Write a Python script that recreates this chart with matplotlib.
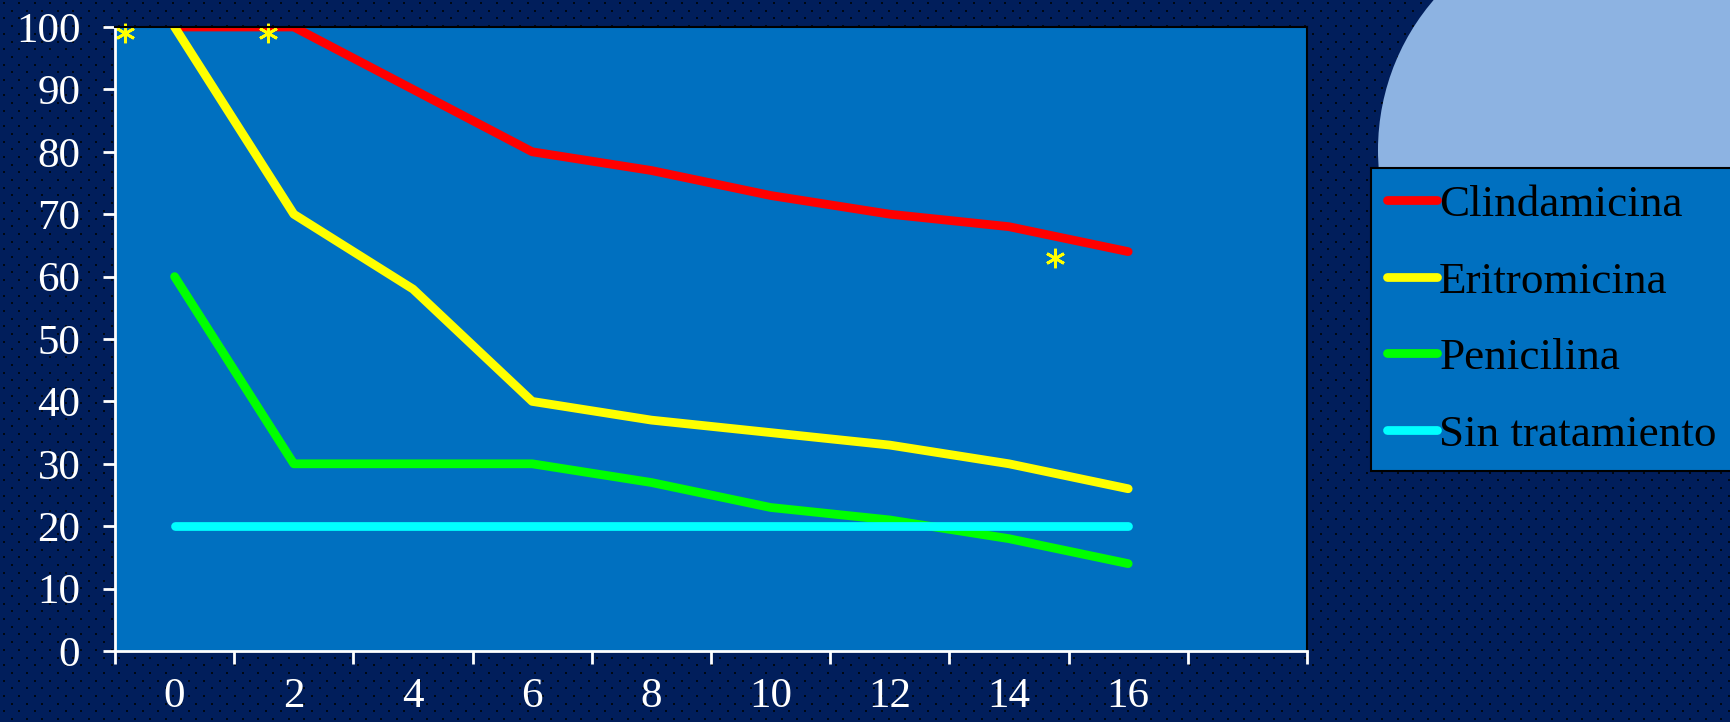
#! /usr/bin/env python

# Curvas de curacion por tratamiento (semanas)

import numpy as np
import matplotlib.pyplot as plt
from matplotlib.patches import Ellipse

# data
semanas = ['0', '2', '4', '6', '8', '10', '12', '14', '16', '']
clindamicina = [100, 100, 90, 80, 77, 73, 70, 68, 64]
eritromicina = [100, 70, 58, 40, 37, 35, 33, 30, 26]
penicilina = [60, 30, 30, 30, 27, 23, 21, 18, 14]
sin_tratamiento = [20, 20, 20, 20, 20, 20, 20, 20, 20]

# asterisks (x in category units, y in %)
ast_x = [-0.42, 0.78, 7.39]
ast_y = [99, 99, 63]

plt.rcParams['font.family'] = ['Liberation Serif', 'DejaVu Serif']

fig = plt.figure(figsize=(17.31, 7.22), dpi=100)
fig.patch.set_facecolor('#011E5B')

# dotted background texture
bg = fig.add_axes([0, 0, 1, 1], zorder=-2)
bg.set_xlim(0, 1731)
bg.set_ylim(722, 0)
bg.axis('off')
gx, gy = np.meshgrid(np.arange(4, 1731, 15.4), np.arange(3, 722, 15.4))
bg.scatter(gx.ravel(), gy.ravel(), s=1.6, c='#000814', marker='s', linewidths=0)
bg.scatter(gx.ravel() + 7.7, gy.ravel() + 7.7, s=1.6, c='#000814', marker='s', linewidths=0)

# light blue circle at the top right
fig.patches.append(Ellipse((1608 / 1731, 1 - 150 / 722), 2 * 230 / 1731, 2 * 230 / 722,
                           transform=fig.transFigure, facecolor='#8DB3E2', edgecolor='none', zorder=-1))

ax = fig.add_axes([115 / 1731, 1 - 651 / 722, (1307 - 115) / 1731, (651 - 27) / 722])
ax.set_facecolor('#0070C0')

x = np.arange(len(clindamicina))
lw = 6.3
ax.plot(x, clindamicina, color='#FF0000', lw=lw, solid_capstyle='round', label='Clindamicina')
ax.plot(x, eritromicina, color='#FFFF00', lw=lw, solid_capstyle='round', label='Eritromicina')
ax.plot(x, penicilina, color='#00FF00', lw=lw, solid_capstyle='round', label='Penicilina')
ax.plot(x, sin_tratamiento, color='#00FFFF', lw=lw, solid_capstyle='round', label='Sin tratamiento')

ax.plot(ast_x, ast_y, linestyle='none', marker=(6, 2, 0), markersize=14,
        markeredgewidth=2, color='#FFFF00', clip_on=False)

ax.set_xlim(-0.5, len(semanas) - 0.5)
ax.set_ylim(0, 100)
ax.set_yticks(range(0, 101, 10))

# ticks between categories, labels centred on them
ax.set_xticks(np.arange(-0.5, len(semanas)))
ax.set_xticklabels([])
ax.set_xticks(np.arange(len(semanas)), minor=True)
ax.set_xticklabels(semanas, minor=True)

ax.tick_params(axis='y', colors='white', labelsize=31, length=9, width=2, pad=16, direction='out')
ax.tick_params(axis='x', which='major', colors='white', length=9, width=2, direction='out')
ax.tick_params(axis='x', which='minor', colors='white', labelsize=31, length=0, pad=19)

for s in ['left', 'bottom']:
    ax.spines[s].set_color('white')
    ax.spines[s].set_linewidth(2)
for s in ['top', 'right']:
    ax.spines[s].set_color('black')
    ax.spines[s].set_linewidth(1.5)

leg = ax.legend(loc='upper left', bbox_to_anchor=(1371 / 1731, 1 - 168 / 722),
                bbox_transform=fig.transFigure, borderaxespad=0, fontsize=32.5,
                handlelength=1.1, handletextpad=0.05, borderpad=0.36, labelspacing=0.8,
                fancybox=False, framealpha=1, facecolor='#0070C0', edgecolor='black')
leg.get_frame().set_linewidth(1.5)
for t in leg.get_texts():
    t.set_color('black')

plt.savefig('out.png', dpi=100, facecolor=fig.get_facecolor())
